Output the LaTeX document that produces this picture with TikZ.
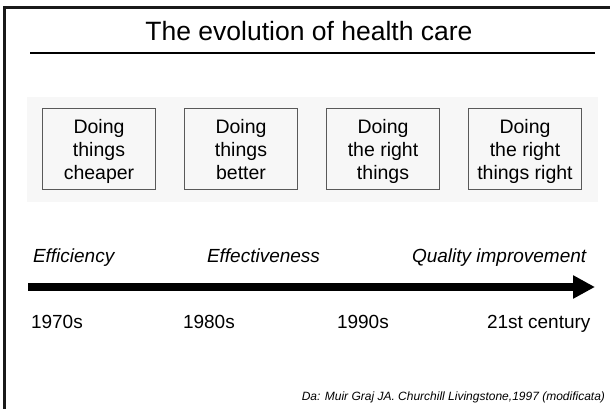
\documentclass[tikz,border=0pt]{standalone}
\usepackage{fontspec}
\setmainfont{Liberation Sans}
\usetikzlibrary{positioning,arrows.meta}
% three lines of a stage box, same height and depth in every box
\newcommand{\stagetext}[3]{\rule{0pt}{15pt}#1\\#2\\\raisebox{0pt}[\height][0pt]{#3}}

\begin{document}
\begin{tikzpicture}
[x=1pt,y=1pt,
 every node/.style={inner sep=0pt,outer sep=0pt,font=\fontsize{19.5}{23}\selectfont},
 phase/.style={rectangle,draw=black!65,line width=0.8pt,fill=black!3,minimum width=113pt,minimum height=81pt,align=center},
 era/.style={anchor=base west,font=\fontsize{19}{23}\selectfont\itshape},
 decade/.style={anchor=base west,font=\fontsize{19}{23}\selectfont},
 rule/.style={line width=1.5pt}]
\useasboundingbox (0,0) rectangle (610,-409);
% slide frame, left and top only
\draw[line width=3pt,black!90] (4.5,-409) -- (4.5,-7.5) -- (610,-7.5);
\node (title) [anchor=base,font=\fontsize{26.5}{30}\selectfont] at (309,-41) {The evolution of health care};
\coordinate (ruleL) at (30,-53);
\coordinate (ruleR) at (595,-53);
\draw[rule] (ruleL) -- (ruleR);
% band of the four stages
\fill[black!3] (27,-97) rectangle (598,-202);
\node[phase] (cheaper)                                   at (99,-148.5) {\stagetext{Doing}{things}{cheaper}};
\node[phase] (better)     [on grid,right=142pt of cheaper] {\stagetext{Doing}{things}{better}};
\node[phase] (right)      [on grid,right=142pt of better]  {\stagetext{Doing}{the right}{things}};
\node[phase] (rightright) [on grid,right=142pt of right]   {\stagetext{Doing}{the right}{things right}};
% time line
\node[era] (efficiency)    at (33,-262)  {Efficiency};
\node[era] (effectiveness) at (207,-262) {Effectiveness};
\node[era] (quality)       at (412,-262) {Quality improvement};
\coordinate (tlstart) at (28,-287);
\coordinate (tlend)   at (595,-287);
\draw[line width=8pt,-{Triangle[length=22pt,width=22pt]}] (tlstart) -- (tlend);
\node[decade] (y70) at (31,-328)  {1970s};
\node[decade] (y80) at (183,-328) {1980s};
\node[decade] (y90) at (337,-328) {1990s};
\node[decade] (y21) at (487,-328) {21st century};
\node (source) [anchor=base east,font=\fontsize{12}{14}\selectfont\itshape] at (605,-400) {Da: Muir Graj JA. Churchill Livingstone,1997 (modificata)};
\end{tikzpicture}
\end{document}
